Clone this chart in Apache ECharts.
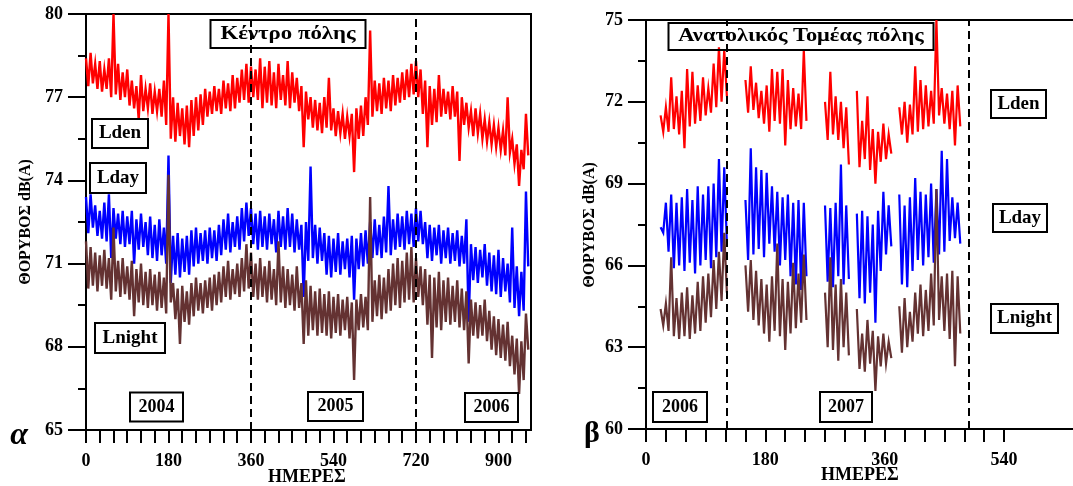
<!DOCTYPE html>
<html><head><meta charset="utf-8">
<script src="https://cdn.jsdelivr.net/npm/echarts@6/dist/echarts.min.js"></script>
<style>html,body{margin:0;padding:0;background:#fff}#c{width:1073px;height:486px}</style>
</head><body><div id="c"></div>
<script>
// ---------- DATA ----------
// Left panel (α): 10-day bins starting day 0, upper / lower envelope of the daily values
const leftStart = 0, leftStep = 10;
const leftLdenHi = [78.4,78.6,78.2,78.3,78.0,78.4,80.0,78.2,77.9,78.0, 77.6,77.4,77.8,77.3,77.5,77.2,77.3,77.6,80.0,77.0, 76.8,76.6,76.7,76.9,77.0,77.1,77.3,77.2,77.4,77.3, 77.6,77.5,77.8,77.7,78.0,78.2,78.1,78.0,78.4,78.1, 78.3,77.9,78.2,77.8,78.3,77.9,77.7,77.4,77.2,77.0, 76.9,76.8,77.0,77.7,76.6,76.5,76.4,76.3,76.4,76.6, 76.7,77.0,79.4,77.6,77.5,77.7,77.6,77.8,77.7,77.9, 78.0,78.2,78.3,78.0,77.6,77.4,77.3,77.8,77.3,77.2, 77.4,77.2,77.0,76.8,76.5,76.6,76.4,76.2,76.1,76.0, 75.9,75.8,77.0,75.5,75.3,75.1,76.4];
const leftLdenLo = [77.4,77.5,77.3,77.2,77.3,77.0,77.1,76.9,77.0,76.7, 76.6,76.2,76.5,76.6,76.4,76.5,76.3,76.0,75.5,75.4, 75.6,75.3,75.2,75.6,75.8,76.0,76.3,76.4,76.5,76.4, 76.6,76.5,76.6,76.8,76.9,76.8,77.0,76.9,76.6,76.8, 76.7,76.6,76.9,76.7,76.6,76.8,76.5,75.2,76.2,75.9, 75.8,75.7,75.9,75.8,75.6,75.7,75.5,75.6,74.3,75.5, 75.6,76.0,76.3,76.5,76.4,76.6,76.5,76.7,76.8,76.9, 77.0,77.1,77.0,76.4,75.2,76.0,76.1,76.3,76.4,76.2, 76.3,74.7,76.0,75.9,75.6,75.7,75.5,75.4,75.3,75.2, 75.1,74.9,75.0,74.6,73.8,74.4,74.9];
const leftLdayHi = [73.4,73.5,73.1,72.9,73.2,73.5,73.0,72.8,72.9,72.7, 72.9,72.6,72.8,72.5,72.7,72.4,72.6,72.3,74.9,72.0, 72.1,71.9,72.0,72.2,72.3,72.1,72.2,72.3,72.2,72.4, 72.6,72.8,72.5,72.7,73.0,73.2,73.0,72.8,72.9,72.7, 72.8,72.6,72.9,72.7,73.0,72.8,72.6,72.4,72.5,74.5, 72.4,72.3,72.1,72.0,71.9,72.1,71.8,71.9,72.0,71.9, 72.1,72.2,72.5,72.6,72.4,72.7,73.8,72.6,72.8,72.7, 72.9,72.8,73.0,72.9,72.5,72.4,72.3,72.4,72.2,72.3, 72.1,72.2,72.0,72.6,71.7,71.6,71.5,71.7,71.4,71.3, 71.5,71.2,71.0,72.3,70.9,70.7,73.6];
const leftLdayLo = [72.1,72.3,72.0,71.9,71.8,71.2,71.9,71.7,71.6,71.7, 71.0,71.5,71.6,71.3,71.2,71.1,71.3,71.0,70.3,70.6, 70.5,70.7,70.6,70.9,71.0,71.1,71.0,71.2,71.1,71.3, 71.5,71.4,71.6,71.5,71.8,72.0,71.7,71.5,71.6,71.5, 71.7,71.4,71.6,71.5,71.6,71.4,71.5,69.8,71.1,71.2, 71.0,71.1,70.6,70.5,70.7,70.6,70.8,70.5,69.7,70.8, 70.9,71.0,71.2,71.3,71.2,71.4,71.3,71.5,71.6,71.5, 71.7,71.6,71.8,71.7,71.2,71.1,71.3,71.0,71.2,71.0, 71.1,70.9,71.0,68.9,70.4,70.3,70.5,70.2,70.0,69.9, 69.8,70.0,69.6,69.4,69.1,69.3,70.9];
const leftLnightHi = [71.8,71.6,71.4,71.3,71.5,71.2,72.3,71.1,71.2,70.9, 71.1,70.8,71.0,70.7,70.8,70.6,70.7,70.5,74.2,70.3, 70.1,70.2,70.0,70.3,70.5,70.3,70.4,70.5,70.6,70.7, 70.9,71.1,70.8,71.0,71.2,71.7,71.4,71.0,71.2,70.9, 71.1,70.8,71.8,70.9,70.8,70.6,70.9,70.3,70.4,70.2, 70.0,70.1,69.9,70.0,69.8,69.9,69.7,69.8,69.6,69.7, 69.9,69.8,73.4,70.4,70.6,70.5,70.8,71.0,71.2,71.1, 71.4,71.6,71.2,70.9,70.8,70.6,70.5,70.7,70.4,70.5, 70.2,70.4,70.1,70.0,69.7,69.6,69.5,69.7,69.3,69.1, 69.0,68.8,68.9,68.4,68.3,68.2,69.2];
const leftLnightLo = [70.1,70.2,70.0,70.2,70.1,69.7,70.0,69.8,69.9,69.7, 69.1,69.6,69.5,69.4,69.5,69.3,69.4,69.2,69.6,69.0, 68.1,68.9,68.8,69.1,69.3,69.2,69.4,69.3,69.5,69.6, 69.8,69.7,69.9,69.8,70.0,70.1,69.8,69.7,69.8,69.6, 69.7,69.5,69.6,69.4,69.5,69.3,69.4,68.1,68.4,68.6, 68.4,68.5,68.4,68.3,68.5,68.4,68.6,68.3,66.8,68.6, 68.7,68.6,68.9,69.1,69.0,69.2,69.3,69.5,69.4,69.6, 69.7,69.6,69.8,69.5,68.8,67.6,68.7,68.6,68.9,68.8, 68.9,68.7,68.6,67.4,68.4,68.3,68.4,68.2,67.9,67.7, 67.6,67.5,67.3,67.0,66.3,66.8,67.9];

// Right panel (β): 8-day bins starting day 22 (null = no measurements)
const rightStart = 22, rightStep = 8;
const rightLdenHi = [71.5,71.8,72.9,72.2,72.4,73.2,73.1,72.6,72.9,72.5,73.4,74.0,73.9, null,null,null, 72.8,73.3,72.7,72.4,72.6,73.2,73.1,73.2,72.8,72.5,72.3,73.9, null,null,null, 72.0,73.1,72.2,72.0,71.8, null, 72.4,71.3,72.2,71.0,70.9,71.2,70.8, null, 71.8,72.0,71.9,73.3,72.8,72.6,72.4,75.0,72.5,72.3,72.4,72.6];
const rightLdenLo = [70.9,70.9,71.0,70.8,70.3,71.1,71.2,71.3,71.5,71.6,71.8,72.0,72.2, null,null,null, 71.6,71.7,71.4,71.2,70.9,71.3,71.2,70.4,71.0,71.1,71.0,71.3, null,null,null, 70.6,70.8,70.6,70.3,69.7, null, 69.6,69.9,69.5,69.0,69.8,69.9,70.1, null, 70.8,70.5,70.8,70.9,71.0,71.1,71.2,71.5,71.2,71.0,70.4,71.1];
const rightLdayHi = [67.4,68.3,68.6,68.3,68.5,68.8,68.4,68.9,68.6,68.9,69.0,69.9,69.6, null,null,null, 68.4,70.3,69.6,69.5,69.4,68.9,68.7,68.5,68.6,68.3,68.4,68.3, null,null,null, 68.2,68.1,68.3,69.7,68.2, null, 67.9,68.0,67.8,67.5,68.0,68.7,68.2, null, 68.6,68.2,68.5,69.2,68.7,68.6,69.0,68.8,70.2,69.9,68.5,68.3];
const rightLdayLo = [67.2,66.5,65.9,66.0,65.8,66.1,65.7,66.0,66.2,65.9,66.3,66.5,66.8, null,null,null, 66.2,66.4,66.6,66.3,66.8,66.5,66.0,66.2,65.6,65.3,65.1,65.6, null,null,null, 65.4,65.2,65.6,65.3,65.5, null, 64.8,64.6,65.0,63.9,65.8,66.4,66.7, null, 65.3,65.2,65.8,66.2,66.0,66.3,66.1,66.4,66.5,66.9,67.0,66.8];
const rightLnightHi = [64.4,64.6,66.3,64.8,65.0,65.2,64.9,65.4,65.6,65.7,66.2,66.5,67.2, null,null,null, 66.0,66.2,65.8,65.5,65.3,65.6,66.8,65.5,65.4,66.1,65.7,66.4, null,null,null, 65.0,66.3,65.3,65.5,65.0, null, 64.4,63.5,64.0,63.6,63.4,63.5,63.2, null, 64.5,64.8,64.3,65.0,65.3,65.1,65.7,68.8,65.6,65.7,65.8,65.6];
const rightLnightLo = [63.8,63.6,63.4,63.3,63.4,63.3,63.5,63.6,63.9,64.1,64.4,64.7,65.0, null,null,null, 64.3,64.0,63.8,63.5,63.2,63.6,63.4,62.9,63.5,63.7,63.9,64.0, null,null,null, 63.0,62.9,62.5,63.0,62.7, null, 62.2,62.1,62.4,61.4,62.3,62.4,62.6, null, 62.8,63.0,63.2,63.5,63.4,63.6,63.8,64.0,63.6,63.3,62.3,63.5];

// Axis ticks / labels / markers
const leftXLabels = [0,180,360,540,720,900];
const rightXLabels = [0,180,360,540];
const leftYLabels = [65,68,71,74,77,80];
const rightYLabels = [60,63,66,69,72,75];
const leftYearLines = [360,720];
const rightYearLines = [122,487];

// ---------- BUILD ----------
function zig(start, step, hi, lo){
  const out=[];
  for(let i=0;i<hi.length;i++){
    const d=start+i*step;
    if(hi[i]==null){ out.push([d,null]); continue; }
    out.push([d,hi[i]]);
    out.push([d+step/2,lo[i]]);
  }
  return out;
}
function ticks(step,last){const a=[];for(let v=0;v<=last;v+=step)a.push(v);return a;}

const SERIF='"Liberation Serif","DejaVu Serif",serif';
const RED='#ff0000', BLUE='#0000ff', BROWN='#643232';

function xAxis(gi,max,labels,tickLast){
  return {gridIndex:gi,type:'value',min:0,max:max,
    axisLine:{show:true,onZero:false,lineStyle:{color:'#000',width:2}},
    axisTick:{show:true,customValues:ticks(30,tickLast),length:13,lineStyle:{color:'#000',width:2}},
    axisLabel:{customValues:labels,margin:22,color:'#000',fontFamily:SERIF,fontWeight:'bold',fontSize:18},
    splitLine:{show:false}};
}
function yAxis(gi,min,max,labels){
  return {gridIndex:gi,type:'value',min:min,max:max,interval:3,
    axisLine:{show:true,onZero:false,lineStyle:{color:'#000',width:2}},
    axisTick:{show:true,length:18,lineStyle:{color:'#000',width:2}},
    minorTick:{show:true,splitNumber:2,length:8,lineStyle:{color:'#000',width:2}},
    minorSplitLine:{show:false},
    axisLabel:{customValues:labels,margin:23,color:'#000',fontFamily:SERIF,fontWeight:'bold',fontSize:18},
    splitLine:{show:false}};
}
function line(gi,data,color,w,mark){
  const s={type:'line',xAxisIndex:gi,yAxisIndex:gi,data:data,symbol:'none',showSymbol:false,
    connectNulls:false,animation:false,lineStyle:{color:color,width:w,join:'miter'},itemStyle:{color:color}};
  if(mark){
    s.markLine={silent:true,symbol:'none',animation:false,label:{show:false},
      lineStyle:{color:'#000',type:[8,5],width:2},data:mark.map(v=>({xAxis:v}))};
  }
  return s;
}
function box(cx,cy,w,h,text,size,sx){
  return [
    {type:'rect',shape:{x:cx-w/2,y:cy-h/2,width:w,height:h},style:{fill:'none',stroke:'#000',lineWidth:2},z:100},
    {type:'text',x:cx,y:cy,scaleX:sx||1,style:{text:text,font:'bold '+size+'px '+SERIF,fill:'#000',textAlign:'center',textVerticalAlign:'middle',verticalAlign:'middle'},z:101}
  ];
}
function txt(x,y,text,size,opts){
  return Object.assign({type:'text',x:x,y:y,style:{text:text,font:(opts&&opts.italic?'italic ':'')+'bold '+size+'px '+SERIF,fill:'#000',textAlign:'center',textVerticalAlign:'middle',verticalAlign:'middle'},z:101},
    opts&&opts.rotation?{rotation:opts.rotation}:{});
}

const graphic=[].concat(
  box(288,34,155,28,'Κέντρο πόλης',19,1.2),
  box(801,36.5,265,27,'Ανατολικός Τομέας πόλης',19,1.18),
  box(120,133.5,56,29,'Lden',19),
  box(118,178,56,30,'Lday',19),
  box(130,338,70,30,'Lnight',19),
  box(156.5,407,53,29,'2004',18),
  box(335.5,406.5,55,29,'2005',18),
  box(491.5,407.5,53,29,'2006',18),
  box(1018.5,104,55,28,'Lden',19),
  box(1020,218,54,28,'Lday',19),
  box(1024.5,318.5,67,29,'Lnight',19),
  box(680,407,54,30,'2006',18),
  box(846,407,52,30,'2007',18),
  [
    txt(26,222,'ΘΟΡΥΒΟΣ dB(A)',16,{rotation:Math.PI/2}),
    txt(590,225,'ΘΟΡΥΒΟΣ dB(A)',16,{rotation:Math.PI/2}),
    txt(307,477,'ΗΜΕΡΕΣ',18),
    txt(860,475,'ΗΜΕΡΕΣ',18),
    txt(19,436,'α',32,{italic:true}),
    txt(592,434,'β',30)
  ]
);

const chart=echarts.init(document.getElementById('c'),null,{renderer:'canvas'});
chart.setOption({
  animation:false,
  backgroundColor:'#fff',
  grid:[
    {left:86,top:14,width:445,height:416,show:true,borderColor:'#000',borderWidth:2,backgroundColor:'transparent'},
    {left:646,top:20,right:0,height:409,show:false}
  ],
  xAxis:[
    xAxis(0,971,leftXLabels,960),
    xAxis(1,644,rightXLabels,540),
    {gridIndex:1,type:'value',position:'top',min:0,max:644,
      axisLine:{show:true,onZero:false,lineStyle:{color:'#000',width:2}},
      axisTick:{show:false},axisLabel:{show:false},splitLine:{show:false}}
  ],
  yAxis:[yAxis(0,65,80,leftYLabels), yAxis(1,60,75,rightYLabels)],
  series:[
    line(0,zig(leftStart,leftStep,leftLdenHi,leftLdenLo),RED,2.4),
    line(0,zig(leftStart,leftStep,leftLdayHi,leftLdayLo),BLUE,2.4),
    line(0,zig(leftStart,leftStep,leftLnightHi,leftLnightLo),BROWN,2.4,leftYearLines),
    line(1,zig(rightStart,rightStep,rightLdenHi,rightLdenLo),RED,2.2),
    line(1,zig(rightStart,rightStep,rightLdayHi,rightLdayLo),BLUE,2.2),
    line(1,zig(rightStart,rightStep,rightLnightHi,rightLnightLo),BROWN,2.2,rightYearLines)
  ],
  graphic:graphic
});
</script></body></html>
